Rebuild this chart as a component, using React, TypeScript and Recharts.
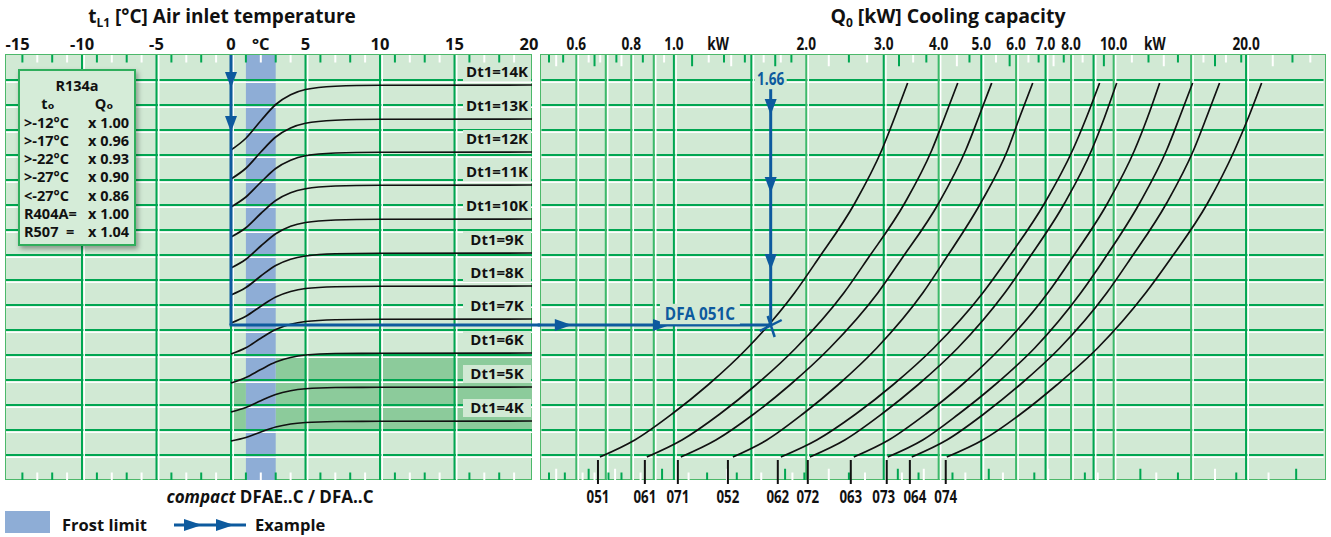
import React from "react";
import {
  LineChart,
  Line,
  XAxis,
  YAxis,
  ReferenceLine,
  ReferenceArea,
  ReferenceDot,
} from "recharts";

const GREEN = "#00a651";
const PANEL = "#d1e9d4";
const FROST = "#8eadd6";
const DARK = "#8ccb9b";
const BLUE = "#0d5a9e";
const FONT = "'Open Sans', 'DejaVu Sans', sans-serif";

// left panel: air inlet temperature (°C) against row level
const tempTicks = [-15, -10, -5, 0, 2, 5, 10, 15, 20];
const tempTickLabels = ["-15", "-10", "-5", "0", "°C", "5", "10", "15", "20"];
const tempGrid = [-10, -5, 0, 5, 10, 15];
const tempMinor = [-14, -13, -12, -11, -9, -8, -7, -6, -4, -3, -2, -1, 1, 2, 3, 4, 6, 7, 8, 9, 11, 12, 13, 14, 16, 17, 18, 19];
const rowLines = [1, 2, 3, 4, 5, 6, 7, 8, 9, 10, 11, 12, 13, 14, 15, 16];

const tempPoints = [0, 1, 2, 3, 4, 5, 7, 10, 20.2];
const dt14 = [13.2, 13.67, 14.37, 15.02, 15.41, 15.62, 15.75, 15.79, 15.8];
const dt13 = [12.04, 12.47, 13.12, 13.72, 14.08, 14.27, 14.39, 14.43, 14.44];
const dt12 = [10.92, 11.32, 11.91, 12.46, 12.79, 12.97, 13.08, 13.11, 13.12];
const dt11 = [9.72, 10.09, 10.66, 11.18, 11.49, 11.65, 11.76, 11.79, 11.8];
const dt10 = [8.48, 8.83, 9.36, 9.85, 10.15, 10.3, 10.4, 10.43, 10.44];
const dt9 = [7.4, 7.7, 8.16, 8.58, 8.83, 8.96, 9.05, 9.07, 9.08];
const dt8 = [6.28, 6.55, 6.95, 7.32, 7.54, 7.66, 7.73, 7.75, 7.76];
const dt7 = [5.04, 5.29, 5.67, 6.02, 6.23, 6.34, 6.41, 6.43, 6.44];
const dt6 = [3.88, 4.1, 4.42, 4.72, 4.9, 5.0, 5.06, 5.07, 5.08];
const dt5 = [2.72, 2.9, 3.17, 3.42, 3.57, 3.65, 3.7, 3.71, 3.72];
const dt4 = [1.56, 1.7, 1.92, 2.12, 2.24, 2.3, 2.34, 2.35, 2.36];
const dtSeries = [dt14, dt13, dt12, dt11, dt10, dt9, dt8, dt7, dt6, dt5, dt4];
const dtNames = ["Dt1=14K", "Dt1=13K", "Dt1=12K", "Dt1=11K", "Dt1=10K", "Dt1=9K", "Dt1=8K", "Dt1=7K", "Dt1=6K", "Dt1=5K", "Dt1=4K"];

// right panel: cooling capacity (kW, log) against row level
const capTicks = [0.6, 0.8, 1, 1.26, 2, 3, 4, 5, 6, 7, 8, 10, 12.4, 20];
const capTickLabels = ["0.6", "0.8", "1.0", "kW", "2.0", "3.0", "4.0", "5.0", "6.0", "7.0", "8.0", "10.0", "kW", "20.0"];
const capGridGreen = [1, 1.5, 3, 5, 7, 9, 20];
const capGridWhite = [0.6, 0.7, 0.8, 0.9, 2, 4, 6, 8, 10, 15];
const capMinorTop = [0.52, 0.54, 0.56, 0.64, 0.66, 0.68, 0.74, 0.76, 0.85, 0.95, 1.1, 1.2, 1.3, 1.35, 1.45, 1.6, 1.7, 1.75, 1.85, 2.25, 2.5, 2.75, 3.25, 3.5, 3.75, 4.4, 4.7, 5.4, 5.8, 6.4, 6.75, 7.3, 7.7, 8.5, 9.5, 11, 12, 13, 14, 16, 17, 18, 19.5, 23, 25.5, 28];
const capMinorBottom = [0.52, 0.54, 0.565, 0.62, 0.64, 0.66, 0.71, 0.735, 0.76, 0.84, 0.94, 1.08, 1.19, 1.32, 1.39, 1.58, 1.79, 1.86, 1.98, 2.25, 2.5, 2.72, 3.23, 3.3, 3.6, 3.7, 4.3, 4.6, 5.2, 5.6, 6.6, 7.1, 8.6, 9.2, 11.5, 12.5, 14, 17, 19, 22.5, 26];

const modelNames = ["051", "061", "071", "052", "062", "072", "063", "073", "064", "074"];
const modelMarks = [0.672, 0.859, 1.021, 1.327, 1.723, 2.016, 2.525, 3.048, 3.44, 4.151];
const modelLevels = [0.92, 1.6, 2.64, 3.8, 5.28, 7.48, 8.8, 11.08, 13.2, 14.52, 15.88];
const q051 = [0.679, 0.815, 0.99, 1.195, 1.47, 1.88, 2.12, 2.58, 2.97, 3.18, 3.4];
const q061 = [0.868, 1.043, 1.272, 1.536, 1.894, 2.434, 2.746, 3.35, 3.86, 4.13, 4.42];
const q071 = [1.037, 1.246, 1.52, 1.835, 2.262, 2.908, 3.281, 4.003, 4.61, 4.934, 5.28];
const q052 = [1.362, 1.627, 1.964, 2.36, 2.893, 3.68, 4.13, 4.985, 5.74, 6.115, 6.545];
const q062 = [1.751, 2.113, 2.592, 3.146, 3.898, 5.038, 5.712, 6.97, 8.07, 8.68, 9.29];
const q072 = [2.038, 2.447, 2.97, 3.585, 4.42, 5.652, 6.376, 7.737, 8.913, 9.54, 10.16];
const q063 = [2.565, 3.08, 3.74, 4.512, 5.537, 7.08, 7.986, 9.69, 11.16, 11.95, 12.72];
const q073 = [3.064, 3.68, 4.443, 5.365, 6.614, 8.414, 9.49, 11.46, 13.2, 14.13, 15.12];
const q064 = [3.475, 4.174, 5.066, 6.115, 7.54, 9.64, 10.87, 13.2, 15.2, 16.27, 17.41];
const q074 = [4.174, 5.038, 6.145, 7.42, 9.196, 11.82, 13.41, 16.36, 18.84, 20.27, 21.7];
const modelCurves = [q051, q061, q071, q052, q062, q072, q063, q073, q064, q074];

// worked example
const exampleTemp = 0;
const exampleLevel = 6.2;
const exampleCap = 1.66;
const exampleDownLeft = [15.68, 13.92];
const exampleRight = [0.586, 0.98];
const exampleDownRight = [14.6, 11.48, 8.4];

const refrigerantRows = [
  [">-12°C", "x 1.00"],
  [">-17°C", "x 0.96"],
  [">-22°C", "x 0.93"],
  [">-27°C", "x 0.90"],
  ["<-27°C", "x 0.86"],
  ["R404A=", "x 1.00"],
  ["R507  =", "x 1.04"],
];

const pair = (dx: number, dy: number, color: string) => (p: any) => (
  <g>
    <line x1={p.x1} y1={p.y1} x2={p.x2} y2={p.y2} stroke={color} strokeWidth={2} />
    <line x1={p.x1 + dx} y1={p.y1 + dy} x2={p.x2 + dx} y2={p.y2 + dy} stroke="#fff" strokeWidth={1.5} />
  </g>
);

const headDown = (p: any) => (
  <path d={`M${p.cx - 6},${p.cy - 16} L${p.cx + 6},${p.cy - 16} L${p.cx},${p.cy} Z`} fill={BLUE} />
);
const headRight = (p: any) => (
  <path d={`M${p.cx - 17},${p.cy - 6} L${p.cx - 17},${p.cy + 6} L${p.cx},${p.cy} Z`} fill={BLUE} />
);
const cross = (p: any) => (
  <g stroke={BLUE} strokeWidth={2.5}>
    <line x1={p.cx - 11} y1={p.cy + 6} x2={p.cx + 11} y2={p.cy - 5} />
    <line x1={p.cx - 3} y1={p.cy - 9} x2={p.cx + 4} y2={p.cy + 12} />
  </g>
);

// bold text squeezed horizontally, for the condensed face of the original
const Narrow = ({ x, y, size, fill, children, sx = 0.8 }: any) => (
  <text
    transform={`translate(${x},${y}) scale(${sx},1)`}
    textAnchor="middle"
    fontSize={size}
    fontWeight={700}
    fontFamily={FONT}
    fill={fill}
  >
    {children}
  </text>
);

const boxLabel = (text: string, color: string, size: number, w: number, sx = 1) => (p: any) => (
  <g>
    <rect x={p.cx - w / 2} y={p.cy - size * 0.6} width={w} height={size * 1.2} fill={PANEL} />
    <Narrow x={p.cx} y={p.cy + size * 0.36} size={size} fill={color} sx={sx}>
      {text}
    </Narrow>
  </g>
);

const TempTick = (p: any) => {
  const i = tempTicks.indexOf(p.payload.value);
  return (
    <text x={p.x + (i === 0 ? 10 : 0)} y={p.y + 3} textAnchor="middle" fontSize={16.5} fontWeight={700} fontFamily={FONT} fill="#111">
      {tempTickLabels[i]}
    </text>
  );
};
const CapTick = (p: any) => {
  const i = capTicks.indexOf(p.payload.value);
  return (
    <Narrow x={p.x} y={p.y + 3} size={17.5} fill="#111" sx={0.78}>
      {capTickLabels[i]}
    </Narrow>
  );
};
// the two crowded labels sit a little apart from their marks, as in the print
const ModelTick = (p: any) => {
  const i = modelMarks.indexOf(p.payload.value);
  const nudge = i === 7 ? -3 : i === 8 ? 5 : 0;
  return (
    <Narrow x={p.x + nudge} y={p.y + 17} size={17.5} fill="#111" sx={0.76}>
      {modelNames[i]}
    </Narrow>
  );
};

const LEFT_M = { top: 25, right: 8, bottom: 57, left: 6 };
const RIGHT_M = { top: 25, right: 7.5, bottom: 27, left: 5.5 };
const TEMP_DOMAIN: [number, number] = [-15.1, 20.2];
const CAP_DOMAIN: [number, number] = [0.5, 30];

function LeftAxes({ labels }: { labels: boolean }) {
  return [
    <XAxis
      key="x"
      xAxisId="t"
      dataKey="t"
      type="number"
      orientation="top"
      domain={TEMP_DOMAIN}
      allowDataOverflow
      ticks={tempTicks}
      interval={0}
      height={30}
      axisLine={false}
      tickLine={false}
      tick={labels ? <TempTick /> : false}
    />,
    <YAxis key="y" yAxisId="r" type="number" domain={[0, 17]} allowDataOverflow hide width={0} />,
  ];
}

function RightAxes({ labels }: { labels: boolean }) {
  return [
    <XAxis
      key="xt"
      xAxisId="q"
      dataKey="q"
      type="number"
      scale="log"
      orientation="top"
      domain={CAP_DOMAIN}
      allowDataOverflow
      ticks={capTicks}
      interval={0}
      height={30}
      axisLine={false}
      tickLine={false}
      tick={labels ? <CapTick /> : false}
    />,
    <XAxis
      key="xb"
      xAxisId="m"
      dataKey="q"
      type="number"
      scale="log"
      orientation="bottom"
      domain={CAP_DOMAIN}
      allowDataOverflow
      ticks={modelMarks}
      interval={0}
      height={30}
      axisLine={false}
      tickSize={4}
      tickLine={labels ? { stroke: "#111", strokeWidth: 2 } : false}
      tick={labels ? <ModelTick /> : false}
    />,
    <YAxis key="y" yAxisId="r" type="number" domain={[0, 17]} allowDataOverflow hide width={0} />,
  ];
}

function LeftBackground() {
  return (
    <LineChart width={540} height={537} margin={LEFT_M}>
      {LeftAxes({ labels: false })}
      <ReferenceArea xAxisId="t" yAxisId="r" x1={3} x2={20.2} y1={2} y2={5} fill={DARK} fillOpacity={1} stroke="none" />
      <ReferenceArea xAxisId="t" yAxisId="r" x1={0} x2={1} y1={2} y2={4} fill={DARK} fillOpacity={1} stroke="none" />
      <ReferenceArea xAxisId="t" yAxisId="r" x1={1} x2={3} y1={0} y2={17} fill={FROST} fillOpacity={1} stroke="none" />
      {rowLines.map((v) => (
        <ReferenceLine key={`h${v}`} xAxisId="t" yAxisId="r" y={v} shape={pair(0, 2.2, GREEN)} />
      ))}
      {tempGrid.map((v) => (
        <ReferenceLine key={`v${v}`} xAxisId="t" yAxisId="r" x={v} shape={pair(2.2, 0, GREEN)} />
      ))}
      {tempMinor.map((v, i) => (
        <ReferenceLine
          key={`mt${v}`}
          xAxisId="t"
          yAxisId="r"
          segment={[{ x: v, y: 17 }, { x: v, y: 16.7 }]}
          stroke={i % 2 ? "#fff" : GREEN}
          strokeWidth={2}
        />
      ))}
      {tempMinor.map((v, i) => (
        <ReferenceLine
          key={`mb${v}`}
          xAxisId="t"
          yAxisId="r"
          segment={[{ x: v, y: 0 }, { x: v, y: 0.3 }]}
          stroke={i % 2 ? "#fff" : GREEN}
          strokeWidth={2}
        />
      ))}
    </LineChart>
  );
}

function LeftForeground() {
  return (
    <LineChart width={540} height={537} margin={LEFT_M}>
      {LeftAxes({ labels: true })}
      {dtSeries.map((arr, i) => (
        <Line
          key={dtNames[i]}
          xAxisId="t"
          yAxisId="r"
          data={tempPoints.map((t, j) => ({ t, y: arr[j] }))}
          dataKey="y"
          type="monotone"
          stroke="#111"
          strokeWidth={1.7}
          dot={false}
          isAnimationActive={false}
        />
      ))}
      {dtSeries.map((arr, i) => (
        <ReferenceDot
          key={`l${i}`}
          xAxisId="t"
          yAxisId="r"
          x={17.85}
          y={arr[arr.length - 1] + 0.52}
          r={1}
          shape={boxLabel(dtNames[i], "#111", 15, 68)}
        />
      ))}
      <ReferenceLine
        xAxisId="t"
        yAxisId="r"
        segment={[{ x: exampleTemp, y: 17 }, { x: exampleTemp, y: exampleLevel }]}
        stroke={BLUE}
        strokeWidth={3}
        ifOverflow="visible"
      />
      <ReferenceLine
        xAxisId="t"
        yAxisId="r"
        segment={[{ x: exampleTemp - 0.1, y: exampleLevel }, { x: 20.8, y: exampleLevel }]}
        stroke={BLUE}
        strokeWidth={3}
        ifOverflow="visible"
      />
      {exampleDownLeft.map((v) => (
        <ReferenceDot key={`a${v}`} xAxisId="t" yAxisId="r" x={exampleTemp} y={v} r={1} shape={headDown} />
      ))}
    </LineChart>
  );
}

function RightBackground() {
  return (
    <LineChart width={795} height={537} margin={RIGHT_M}>
      {RightAxes({ labels: false })}
      {rowLines.map((v) => (
        <ReferenceLine key={`h${v}`} xAxisId="q" yAxisId="r" y={v} shape={pair(0, 2.2, GREEN)} />
      ))}
      {capGridWhite.map((v) => (
        <ReferenceLine key={`w${v}`} xAxisId="q" yAxisId="r" x={v} shape={pair(2, 0, "#3cb96a")} />
      ))}
      {capGridGreen.map((v) => (
        <ReferenceLine key={`g${v}`} xAxisId="q" yAxisId="r" x={v} shape={pair(2.2, 0, GREEN)} />
      ))}
      {capMinorTop.map((v, i) => (
        <ReferenceLine
          key={`mt${v}`}
          xAxisId="q"
          yAxisId="r"
          segment={[{ x: v, y: 17 }, { x: v, y: i % 3 === 1 ? 16.55 : 16.7 }]}
          stroke={i % 2 ? "#fff" : GREEN}
          strokeWidth={2}
        />
      ))}
      {capMinorBottom.map((v, i) => (
        <ReferenceLine
          key={`mb${v}`}
          xAxisId="q"
          yAxisId="r"
          segment={[{ x: v, y: 0 }, { x: v, y: i % 3 === 1 ? 0.45 : 0.3 }]}
          stroke={i % 2 ? "#fff" : GREEN}
          strokeWidth={2}
        />
      ))}
    </LineChart>
  );
}

function RightForeground() {
  return (
    <LineChart width={795} height={537} margin={RIGHT_M}>
      {RightAxes({ labels: true })}
      {modelCurves.map((qs, i) => (
        <Line
          key={modelNames[i]}
          xAxisId="q"
          yAxisId="r"
          data={qs.map((q, j) => ({ q, y: modelLevels[j] }))}
          dataKey="y"
          type="monotone"
          stroke="#111"
          strokeWidth={1.7}
          dot={false}
          isAnimationActive={false}
        />
      ))}
      {modelMarks.map((v) => (
        <ReferenceLine
          key={`mk${v}`}
          xAxisId="q"
          yAxisId="r"
          segment={[{ x: v, y: 0 }, { x: v, y: 0.8 }]}
          stroke="#111"
          strokeWidth={2}
        />
      ))}
      <ReferenceLine
        xAxisId="q"
        yAxisId="r"
        segment={[{ x: 0.49, y: exampleLevel }, { x: exampleCap, y: exampleLevel }]}
        stroke={BLUE}
        strokeWidth={3}
        ifOverflow="visible"
      />
      <ReferenceLine
        xAxisId="q"
        yAxisId="r"
        segment={[{ x: exampleCap, y: 15.65 }, { x: exampleCap, y: exampleLevel }]}
        stroke={BLUE}
        strokeWidth={3}
      />
      {exampleRight.map((v) => (
        <ReferenceDot key={`ar${v}`} xAxisId="q" yAxisId="r" x={v} y={exampleLevel} r={1} shape={headRight} />
      ))}
      {exampleDownRight.map((v) => (
        <ReferenceDot key={`ad${v}`} xAxisId="q" yAxisId="r" x={exampleCap} y={v} r={1} shape={headDown} />
      ))}
      <ReferenceDot xAxisId="q" yAxisId="r" x={exampleCap} y={exampleLevel} r={1} shape={cross} />
      <ReferenceDot xAxisId="q" yAxisId="r" x={exampleCap} y={16.04} r={1} shape={boxLabel("1.66", BLUE, 17, 32, 0.8)} />
      <ReferenceDot xAxisId="q" yAxisId="r" x={1.146} y={6.64} r={1} shape={boxLabel("DFA 051C", BLUE, 17, 80, 0.9)} />
    </LineChart>
  );
}

const abs = (left: number, top: number): React.CSSProperties => ({ position: "absolute", left, top });
const subStyle: React.CSSProperties = { fontSize: 12, lineHeight: 0, verticalAlign: "-4px" };

export default function App() {
  return (
    <div style={{ position: "absolute", left: 0, top: 0, width: 1331, height: 537, background: "#fff", overflow: "hidden", fontFamily: FONT, color: "#111" }}>
      <div style={{ ...abs(222, 3), transform: "translateX(-50%)", fontSize: 19, fontWeight: 700, whiteSpace: "nowrap", lineHeight: "26px" }}>
        t<sub style={subStyle}>L1</sub> [°C] Air inlet temperature
      </div>
      <div style={{ ...abs(948, 3), transform: "translateX(-50%)", fontSize: 19.5, fontWeight: 700, whiteSpace: "nowrap", lineHeight: "26px" }}>
        Q<sub style={subStyle}>0</sub> [kW] Cooling capacity
      </div>

      <div style={{ ...abs(5, 54), width: 527, height: 426, background: PANEL, border: "1.5px solid #4cb86a", boxSizing: "border-box" }} />
      <div style={{ ...abs(540, 54), width: 786, height: 426, background: PANEL, border: "1.5px solid #4cb86a", boxSizing: "border-box" }} />

      <div style={abs(0, 0)}><LeftBackground /></div>
      <div style={abs(536, 0)}><RightBackground /></div>
      <div style={abs(0, 0)}><LeftForeground /></div>
      <div style={abs(536, 0)}><RightForeground /></div>

      <div
        style={{
          ...abs(18, 69),
          width: 118,
          height: 177,
          background: "#d5ecd8",
          border: "2px solid #2fae5c",
          boxSizing: "border-box",
          boxShadow: "2px 3px 5px rgba(0,0,0,0.35)",
          fontSize: 14.5,
          fontWeight: 700,
          lineHeight: "18.3px",
          paddingTop: 6,
        }}
      >
        <div style={{ textAlign: "center", height: 18.3 }}>R134a</div>
        <div style={{ display: "flex", height: 18.3 }}>
          <span style={{ width: 56, textAlign: "center" }}>tₒ</span>
          <span style={{ width: 56, textAlign: "center" }}>Qₒ</span>
        </div>
        {refrigerantRows.map((r) => (
          <div key={r[0]} style={{ display: "flex", whiteSpace: "pre", height: 18.3 }}>
            <span style={{ width: 64, paddingLeft: 4 }}>{r[0]}</span>
            <span>{r[1]}</span>
          </div>
        ))}
      </div>

      <div style={{ ...abs(270, 486), transform: "translateX(-50%)", fontSize: 17, fontWeight: 700, whiteSpace: "nowrap", lineHeight: "22px" }}>
        <i>compact</i> DFAE..C / DFA..C
      </div>
      <div style={{ ...abs(5, 511), width: 45, height: 22, background: FROST }} />
      <div style={{ ...abs(62, 514), fontSize: 16.5, fontWeight: 700, lineHeight: "22px" }}>Frost limit</div>
      <svg style={abs(172, 517)} width={76} height={16}>
        <line x1={2} y1={8} x2={74} y2={8} stroke={BLUE} strokeWidth={3} />
        <path d="M12,2 L12,14 L30,8 Z" fill={BLUE} />
        <path d="M44,2 L44,14 L62,8 Z" fill={BLUE} />
      </svg>
      <div style={{ ...abs(255, 514), fontSize: 16.5, fontWeight: 700, lineHeight: "22px" }}>Example</div>
    </div>
  );
}
